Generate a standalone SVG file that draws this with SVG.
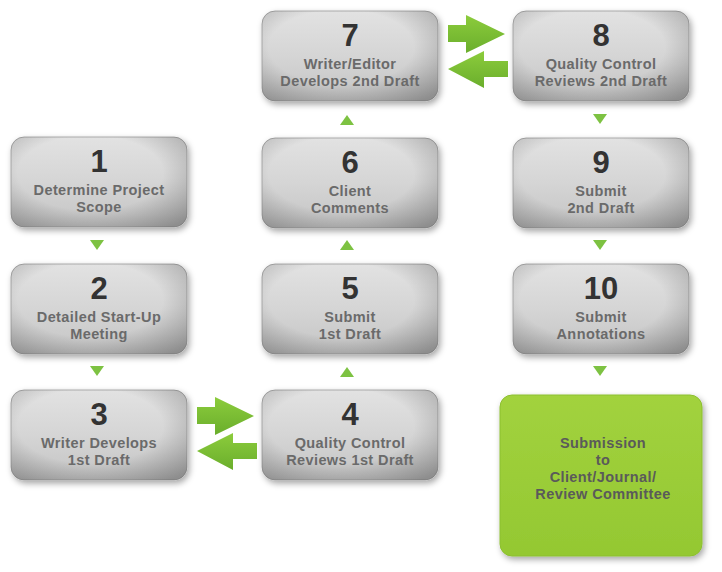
<svg xmlns="http://www.w3.org/2000/svg" width="722" height="572" viewBox="0 0 722 572">
<defs>
<linearGradient id="gbox" x1="0" y1="0" x2="0" y2="1">
<stop offset="0" stop-color="#e2e2e2"/>
<stop offset="0.5" stop-color="#d5d5d5"/>
<stop offset="1" stop-color="#c4c4c4"/>
</linearGradient>
<radialGradient id="vig" cx="0.45" cy="0.4" r="0.75">
<stop offset="0.55" stop-color="#000" stop-opacity="0"/>
<stop offset="1" stop-color="#000" stop-opacity="0.28"/>
</radialGradient>
<linearGradient id="ggreen" x1="0" y1="0" x2="0" y2="1">
<stop offset="0" stop-color="#a2d23e"/>
<stop offset="1" stop-color="#94c832"/>
</linearGradient>
<linearGradient id="garrow" x1="0" y1="0" x2="0" y2="1">
<stop offset="0" stop-color="#8ccc3c"/>
<stop offset="1" stop-color="#6aae2c"/>
</linearGradient>
<filter id="sh" x="-10%" y="-10%" width="125%" height="130%">
<feDropShadow dx="2" dy="3" stdDeviation="3" flood-color="#000" flood-opacity="0.35"/>
</filter>
<g id="box">
<rect width="176" height="90" rx="13" fill="url(#gbox)" stroke="#a9a9a9" stroke-width="1"/>
<rect width="176" height="90" rx="13" fill="url(#vig)"/>
</g>
<path id="tri-d" d="M-7,0 L7,0 L0,10 Z" fill="#7dc242"/>
<path id="tri-u" d="M-7,10 L7,10 L0,0 Z" fill="#7dc242"/>
<path id="arr-r" d="M0,10 L18,10 L18,0 L57,19 L18,38 L18,27 L0,27 Z" fill="url(#garrow)"/>
<path id="arr-l" d="M0,18 L36,0 L36,10 L60,10 L60,26 L36,26 L36,37 Z" fill="url(#garrow)"/>
</defs>
<style>
.num{font-family:"Liberation Sans",Arial,sans-serif;font-weight:bold;font-size:31px;fill:#333;text-anchor:middle}
.lbl{font-family:"Liberation Sans",Arial,sans-serif;font-weight:bold;font-size:14.5px;fill:#6a6a6a;text-anchor:middle;letter-spacing:0.4px}
.fin{font-family:"Liberation Sans",Arial,sans-serif;font-weight:bold;font-size:14.5px;fill:#5a5a5a;text-anchor:middle;letter-spacing:0.4px}
</style>
<g id="connectors">
<use href="#tri-d" x="97" y="240"/>
<use href="#tri-d" x="97" y="366"/>
<use href="#tri-u" x="347" y="115"/>
<use href="#tri-u" x="347" y="240"/>
<use href="#tri-u" x="347" y="367"/>
<use href="#tri-d" x="600" y="114"/>
<use href="#tri-d" x="600" y="240"/>
<use href="#tri-d" x="600" y="366"/>
<use href="#arr-r" x="197" y="397"/>
<use href="#arr-l" x="197" y="433"/>
<use href="#arr-r" x="448" y="15"/>
<use href="#arr-l" x="448" y="51"/>
</g>
<g id="node1" transform="translate(11,137)"><use href="#box" filter="url(#sh)"/><text class="num" x="88" y="35">1</text><text class="lbl" x="88" y="58">Determine Project</text><text class="lbl" x="88" y="75">Scope</text></g>
<g id="node2" transform="translate(11,264)"><use href="#box" filter="url(#sh)"/><text class="num" x="88" y="35">2</text><text class="lbl" x="88" y="58">Detailed Start-Up</text><text class="lbl" x="88" y="75">Meeting</text></g>
<g id="node3" transform="translate(11,390)"><use href="#box" filter="url(#sh)"/><text class="num" x="88" y="35">3</text><text class="lbl" x="88" y="58">Writer Develops</text><text class="lbl" x="88" y="75">1st Draft</text></g>
<g id="node4" transform="translate(262,390)"><use href="#box" filter="url(#sh)"/><text class="num" x="88" y="35">4</text><text class="lbl" x="88" y="58">Quality Control</text><text class="lbl" x="88" y="75">Reviews 1st Draft</text></g>
<g id="node5" transform="translate(262,264)"><use href="#box" filter="url(#sh)"/><text class="num" x="88" y="35">5</text><text class="lbl" x="88" y="58">Submit</text><text class="lbl" x="88" y="75">1st Draft</text></g>
<g id="node6" transform="translate(262,138)"><use href="#box" filter="url(#sh)"/><text class="num" x="88" y="35">6</text><text class="lbl" x="88" y="58">Client</text><text class="lbl" x="88" y="75">Comments</text></g>
<g id="node7" transform="translate(262,11)"><use href="#box" filter="url(#sh)"/><text class="num" x="88" y="35">7</text><text class="lbl" x="88" y="58">Writer/Editor</text><text class="lbl" x="88" y="75">Develops 2nd Draft</text></g>
<g id="node8" transform="translate(513,11)"><use href="#box" filter="url(#sh)"/><text class="num" x="88" y="35">8</text><text class="lbl" x="88" y="58">Quality Control</text><text class="lbl" x="88" y="75">Reviews 2nd Draft</text></g>
<g id="node9" transform="translate(513,138)"><use href="#box" filter="url(#sh)"/><text class="num" x="88" y="35">9</text><text class="lbl" x="88" y="58">Submit</text><text class="lbl" x="88" y="75">2nd Draft</text></g>
<g id="node10" transform="translate(513,264)"><use href="#box" filter="url(#sh)"/><text class="num" x="88" y="35">10</text><text class="lbl" x="88" y="58">Submit</text><text class="lbl" x="88" y="75">Annotations</text></g>
<g id="final" transform="translate(500,395)">
<rect width="202" height="161" rx="12" fill="url(#ggreen)" stroke="#8cbf30" filter="url(#sh)"/>
<text class="fin" x="103" y="53">Submission</text>
<text class="fin" x="103" y="70">to</text>
<text class="fin" x="103" y="87">Client/Journal/</text>
<text class="fin" x="103" y="104">Review Committee</text>
</g>
</svg>
